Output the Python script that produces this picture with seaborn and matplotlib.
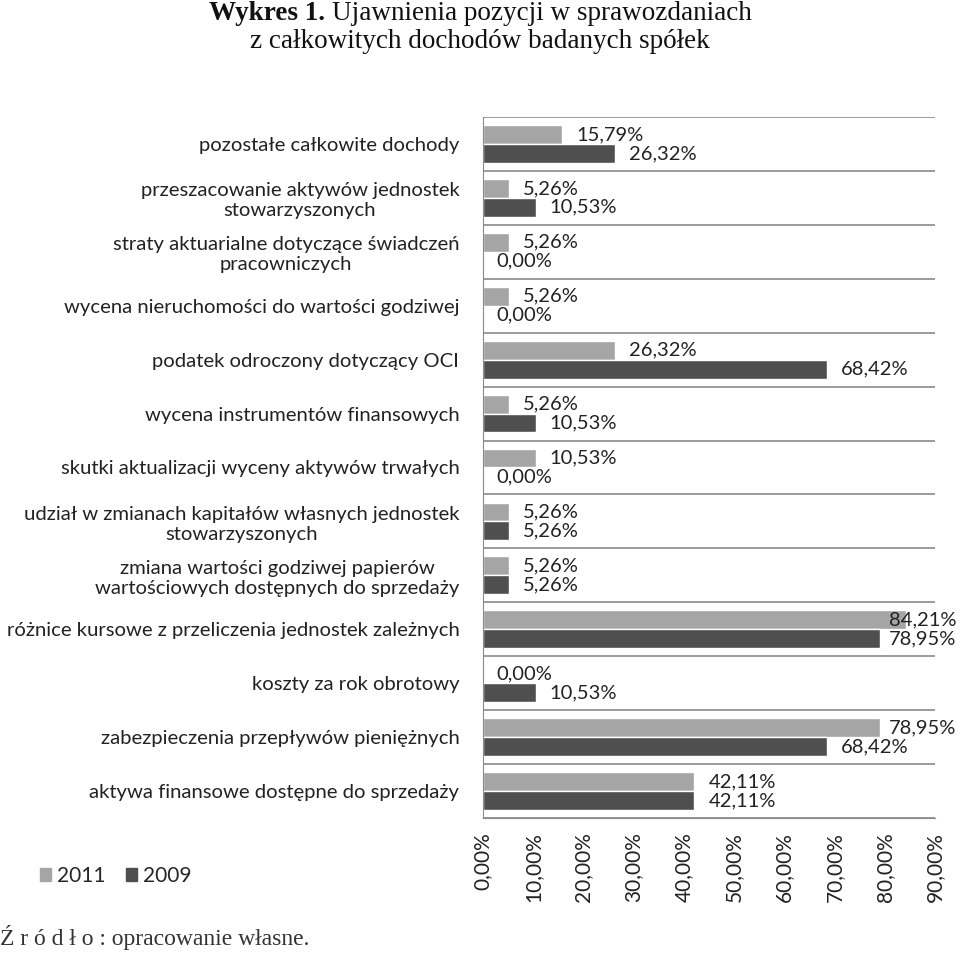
import numpy as np
import pandas as pd
import matplotlib
matplotlib.use("Agg")
import matplotlib.pyplot as plt
import seaborn as sns
from matplotlib.patches import Patch

# ====== Data ======
categories = [
    "pozostałe całkowite dochody",
    "przeszacowanie aktywów jednostek\nstowarzyszonych",
    "straty aktuarialne dotyczące świadczeń\npracowniczych",
    "wycena nieruchomości do wartości godziwej",
    "podatek odroczony dotyczący OCI",
    "wycena instrumentów finansowych",
    "skutki aktualizacji wyceny aktywów trwałych",
    "udział w zmianach kapitałów własnych jednostek\nstowarzyszonych",
    "zmiana wartości godziwej papierów\nwartościowych dostępnych do sprzedaży",
    "różnice kursowe z przeliczenia jednostek zależnych",
    "koszty za rok obrotowy",
    "zabezpieczenia przepływów pieniężnych",
    "aktywa finansowe dostępne do sprzedaży",
]
values_2011 = [15.79, 5.26, 5.26, 5.26, 26.32, 5.26, 10.53, 5.26, 5.26, 84.21, 0.00, 78.95, 42.11]
values_2009 = [26.32, 10.53, 0.00, 0.00, 68.42, 10.53, 0.00, 5.26, 5.26, 78.95, 10.53, 68.42, 42.11]
years = ["2011", "2009"]
x_ticks = [0, 10, 20, 30, 40, 50, 60, 70, 80, 90]

df = pd.DataFrame({
    "kategoria": categories * 2,
    "rok": [years[0]] * len(categories) + [years[1]] * len(categories),
    "wartosc": values_2011 + values_2009,
})

def pct(v):
    return f"{v:.2f}%".replace(".", ",")

# ====== Plot ======
sns.set_style("white")
plt.rcParams["font.family"] = ["Lato", "DejaVu Sans"]

fig = plt.figure(figsize=(9.6, 9.55), dpi=100)
ax = fig.add_axes([0.503, 0.1435, 0.471, 0.734])

sns.barplot(
    data=df, y="kategoria", x="wartosc", hue="rok", orient="h",
    palette=["#a5a5a5", "#4f4f4f"], width=0.7, saturation=1,
    edgecolor="white", linewidth=1, ax=ax, legend=False,
)

bar_texts = []
for cont in ax.containers:
    bar_texts += ax.bar_label(cont, labels=[pct(v) for v in cont.datavalues],
                              padding=10, fontsize=14.5, color="#222222")

ax.set_xlim(0, 90)
ax.set_ylim(12.5, -0.5)
ax.set_xticks(x_ticks)
ax.set_xticklabels([pct(t) for t in x_ticks], rotation=90, fontsize=15,
                   color="#222222")
ax.tick_params(axis="y", labelsize=14.6, labelcolor="#222222", length=0, pad=17)
ax.tick_params(axis="x", length=0, pad=10)
for lab in ax.get_yticklabels():
    lab.set_horizontalalignment("right")
    lab.set_multialignment("center")

# lines between categories
ax.set_yticks(np.arange(-0.5, len(categories), 1), minor=True)
ax.tick_params(axis="y", which="minor", length=0)
ax.grid(axis="y", which="minor", color="#8a8a8a", linewidth=1.2)
ax.set_axisbelow(True)
ax.set_xlabel("")
ax.set_ylabel("")
for side in ["top", "right"]:
    ax.spines[side].set_visible(False)
ax.spines["left"].set_color("#8a8a8a")
ax.spines["bottom"].set_color("#8a8a8a")

# legend
handles = [Patch(color="#a5a5a5"), Patch(color="#4f4f4f")]
fig.legend(handles, years, loc="center left", bbox_to_anchor=(0.022, 0.083),
           ncol=2, frameon=False, fontsize=15, handlelength=0.55, handleheight=0.55,
           handletextpad=0.25, columnspacing=1.0)

# title and source
bold = fig.text(0.5, 0.986, "Wykres 1. ", ha="left", va="center", fontsize=19.5,
                family="Liberation Serif", fontweight="bold", color="#111111")
t1 = fig.text(0.5, 0.986, "Ujawnienia pozycji w sprawozdaniach", ha="left", va="center",
              fontsize=19.5, family="Liberation Serif", color="#111111")
fig.text(0.5, 0.957, "z całkowitych dochodów badanych spółek", ha="center", va="center",
         fontsize=19.5, family="Liberation Serif", color="#111111")
fig.text(0.0, 0.018, "Ź r ó d ł o : opracowanie własne.", ha="left", va="center",
         fontsize=17, family="Liberation Serif", color="#333333")

# centre first title line
fig.canvas.draw()
r = fig.canvas.get_renderer()
W = fig.bbox.width
wb = bold.get_window_extent(r).width
wt = t1.get_window_extent(r).width
start = (W - wb - wt) / 2
bold.set_x(start / W)
t1.set_x((start + wb) / W)

# value labels that would run off the right edge end at the edge instead
for t in bar_texts:
    bb = t.get_window_extent(r)
    if bb.x1 > W - 4:
        shift = (W - 4) - ax.transData.transform((t.xy[0], 0))[0]
        t.set_ha("right")
        t.xyann = (shift * 72 / fig.dpi, t.xyann[1])

fig.savefig("out.png", dpi=100)
